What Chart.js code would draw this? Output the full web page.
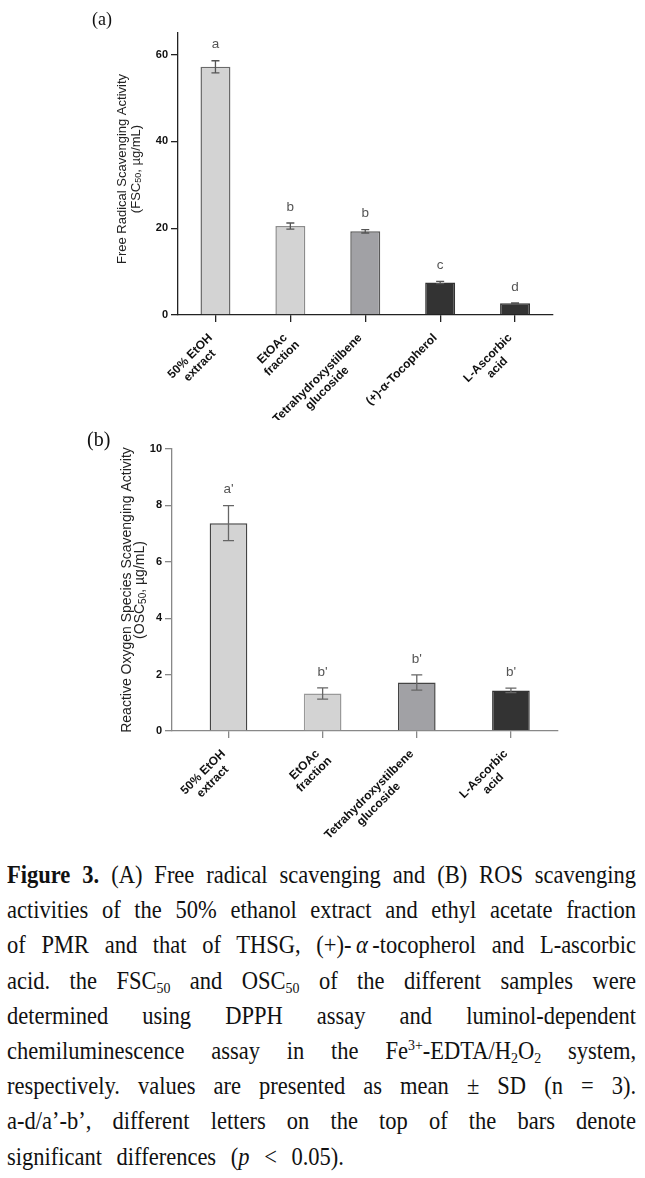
<!DOCTYPE html>
<html>
<head>
<meta charset="utf-8">
<script src="https://cdn.jsdelivr.net/npm/chart.js@4"></script>
<style>
body { margin: 0; background: #fff; width: 645px; height: 1178px; position: relative; overflow: hidden; }
#wrapA { position: absolute; left: 0; top: 0; }
#wrapB { position: absolute; left: 0; top: 420px; }
.panel { position: absolute; font-family: "Liberation Serif", serif; font-size: 18px; color: #111; }
#caption { position: absolute; left: 7px; top: 857px; width: 699px; transform: scaleX(0.9); transform-origin: 0 0;
  font-family: "Liberation Serif", serif; font-size: 25px; line-height: 35.2px; color: #111; }
#caption .ln { text-align: justify; text-align-last: justify; white-space: nowrap; }
#caption .last { word-spacing: 10px; white-space: nowrap; }
#caption sub, #caption sup { font-size: 0.62em; line-height: 0; }
#caption sub { vertical-align: -0.25em; }
#caption sup { vertical-align: 0.6em; }
</style>
</head>
<body>
<div id="wrapA"><canvas id="chartA" width="645" height="420"></canvas></div>
<div id="wrapB"><canvas id="chartB" width="645" height="430"></canvas></div>
<div class="panel" style="left:92px;top:9px;">(a)</div>
<div class="panel" style="left:87px;top:428px;font-size:20px;">(b)</div>
<div id="caption">
<div class="ln"><b>Figure 3.</b> (A) Free radical scavenging and (B) ROS scavenging</div>
<div class="ln">activities of the 50% ethanol extract and ethyl acetate fraction</div>
<div class="ln">of PMR and that of THSG, (+)-&thinsp;<i>α</i>&thinsp;-tocopherol and L-ascorbic</div>
<div class="ln">acid. the FSC<sub>50</sub> and OSC<sub>50</sub> of the different samples were</div>
<div class="ln">determined using DPPH assay and luminol-dependent</div>
<div class="ln">chemiluminescence assay in the Fe<sup>3+</sup>-EDTA/H<sub>2</sub>O<sub>2</sub> system,</div>
<div class="ln">respectively. values are presented as mean ± SD (n = 3).</div>
<div class="ln">a-d/a’-b’, different letters on the top of the bars denote</div>
<div class="last">significant differences (<i>p</i> &lt; 0.05).</div>
</div>
<script>
// panel (a) - free radical scavenging, FSC50
var categoriesA = [['50% EtOH', 'extract'], ['EtOAc', 'fraction'], ['Tetrahydroxystilbene', 'glucoside'], ['(+)-α-Tocopherol'], ['L-Ascorbic', 'acid']];
var valuesA = [57.2, 20.5, 19.3, 7.5, 2.7];
var errorsA = [1.4, 0.7, 0.4, 0.25, 0.1];
var lettersA = ['a', 'b', 'b', 'c', 'd'];
var yTicksA = [0, 20, 40, 60];

// panel (b) - ROS scavenging, OSC50
var categoriesB = [['50% EtOH', 'extract'], ['EtOAc', 'fraction'], ['Tetrahydroxystilbene', 'glucoside'], ['L-Ascorbic', 'acid']];
var valuesB = [7.37, 1.33, 1.72, 1.44];
var errorsB = [0.62, 0.2, 0.27, 0.08];
var lettersB = ["a'", "b'", "b'", "b'"];
var yTicksB = [0, 2, 4, 6, 8, 10];

Chart.defaults.font.family = '"Liberation Sans", Arial, sans-serif';

// error bars, letters, rotated x labels and the two-line y title
var extras = {
    id: 'extras',
    afterDatasetsDraw: function (chart, args, o) {
        var ctx = chart.ctx, y = chart.scales.y;
        var meta = chart.getDatasetMeta(0);
        ctx.save();
        o.values.forEach(function (v, i) {
            var cx = meta.data[i].x;
            var top = y.getPixelForValue(v + o.errors[i]);
            var bot = y.getPixelForValue(v - o.errors[i]);
            ctx.strokeStyle = o.errColor;
            ctx.lineWidth = 1.3;
            ctx.beginPath();
            ctx.moveTo(cx, top); ctx.lineTo(cx, bot);
            ctx.moveTo(cx - o.cap, top); ctx.lineTo(cx + o.cap, top);
            ctx.moveTo(cx - o.cap, bot); ctx.lineTo(cx + o.cap, bot);
            ctx.stroke();
            ctx.fillStyle = '#555';
            ctx.font = '13.5px "Liberation Sans"';
            ctx.textAlign = 'center';
            ctx.textBaseline = 'middle';
            ctx.fillText(o.letters[i], cx, top - 16);
        });
        ctx.restore();
    },
    afterDraw: function (chart, args, o) {
        var ctx = chart.ctx, x = chart.scales.x, area = chart.chartArea;
        ctx.save();
        // category labels, 45 degrees, lines centred on each other
        ctx.fillStyle = '#111';
        ctx.font = 'bold 12px "Liberation Sans"';
        ctx.textBaseline = 'middle';
        o.labels.forEach(function (lines, i) {
            var tx = x.getPixelForValue(i);
            var w1 = ctx.measureText(lines[0]).width;
            ctx.save();
            ctx.translate(tx - 5, area.bottom + 21);
            ctx.rotate(-Math.PI / 4);
            ctx.textAlign = 'center';
            lines.forEach(function (s, j) {
                ctx.fillText(s, -w1 / 2, j * 13.5);
            });
            ctx.restore();
        });
        // y axis title
        var cy = (area.top + area.bottom) / 2 + o.titleShift;
        ctx.fillStyle = '#222';
        ctx.textBaseline = 'middle';
        ctx.save();
        ctx.translate(o.titleX[0], cy);
        ctx.rotate(-Math.PI / 2);
        ctx.textAlign = 'center';
        ctx.font = o.titleSize + 'px "Liberation Sans"';
        ctx.fillText(o.title[0], 0, 0);
        ctx.restore();
        // second line with subscript 50
        var big = o.titleSize + 'px "Liberation Sans"', small = Math.round(o.titleSize * 0.7) + 'px "Liberation Sans"';
        ctx.font = big;
        var wa = ctx.measureText(o.title[1]).width, wc = ctx.measureText(o.title[3]).width;
        ctx.font = small;
        var wb = ctx.measureText(o.title[2]).width;
        ctx.save();
        ctx.translate(o.titleX[1], cy);
        ctx.rotate(-Math.PI / 2);
        ctx.textAlign = 'left';
        var sx = -(wa + wb + wc) / 2;
        ctx.font = big;
        ctx.fillText(o.title[1], sx, 0);
        ctx.font = small;
        ctx.fillText(o.title[2], sx + wa, 3);
        ctx.font = big;
        ctx.fillText(o.title[3], sx + wa + wb, 0);
        ctx.restore();
        ctx.restore();
    }
};

function makeChart(id, values, bg, border, opts) {
    return new Chart(document.getElementById(id), {
        type: 'bar',
        data: {
            datasets: [{
                data: values.map(function (v, i) { return { x: i, y: v }; }),
                backgroundColor: bg,
                borderColor: border,
                borderWidth: 1.5,
                barPercentage: 0.4,
                categoryPercentage: 1
            }]
        },
        options: {
            responsive: false,
            maintainAspectRatio: false,
            animation: false,
            layout: { padding: { left: 0, right: opts.padRight, top: opts.padTop, bottom: 0 } },
            plugins: {
                legend: { display: false },
                tooltip: { enabled: false },
                extras: opts.extras
            },
            scales: {
                x: {
                    type: 'linear',
                    offset: false,
                    min: opts.xMin,
                    max: opts.xMax,
                    afterBuildTicks: function (s) { s.ticks = opts.extras.labels.map(function (c, i) { return { value: i }; }); },
                    afterFit: function (s) { s.height = opts.xHeight; },
                    ticks: { display: false },
                    grid: { offset: false, drawOnChartArea: false, drawTicks: true, tickLength: 7, color: opts.axisColor, lineWidth: 1.3 },
                    border: { color: opts.axisColor, width: 1.3 }
                },
                y: {
                    min: 0,
                    max: opts.yMax,
                    afterBuildTicks: function (s) { s.ticks = opts.yTicks.map(function (v) { return { value: v }; }); },
                    afterFit: function (s) { s.width = opts.yWidth; },
                    ticks: { color: '#111', padding: 3, font: { size: 11, weight: 'bold' } },
                    grid: { drawOnChartArea: false, drawTicks: true, tickLength: 7, color: opts.axisColor, lineWidth: 1.3 },
                    border: { color: opts.axisColor, width: 1.3 }
                }
            }
        },
        plugins: [extras]
    });
}

makeChart('chartA', valuesA,
    ['#d3d3d3', '#d3d3d3', '#a1a1a5', '#333333', '#333333'],
    ['#6a6a6a', '#8c8c8c', '#5a5a5a', '#333333', '#333333'],
    {
        padRight: 92.5, padTop: 33, xHeight: 105, yWidth: 178, yMax: 65, yTicks: yTicksA,
        xMin: -0.5, xMax: 4.5, axisColor: '#222',
        extras: {
            values: valuesA, errors: errorsA, letters: lettersA, labels: categoriesA,
            errColor: '#555', cap: 4,
            title: ['Free Radical Scavenging Activity', '(FSC', '50', ', µg/mL)'],
            titleX: [122, 136], titleSize: 13, titleShift: -5
        }
    });

makeChart('chartB', valuesB,
    ['#d3d3d3', '#d3d3d3', '#a1a1a5', '#333333'],
    ['#444444', '#999999', '#444444', '#333333'],
    {
        padRight: 87, padTop: 29, xHeight: 119, yWidth: 172, yMax: 10, yTicks: yTicksB,
        xMin: -0.6, xMax: 3.5, axisColor: '#888',
        extras: {
            values: valuesB, errors: errorsB, letters: lettersB, labels: categoriesB,
            errColor: '#666', cap: 5.5,
            title: ['Reactive Oxygen Species Scavenging Activity', '(OSC', '50', ', µg/mL)'],
            titleX: [127, 140], titleSize: 14, titleShift: 0
        }
    });
</script>
</body>
</html>
